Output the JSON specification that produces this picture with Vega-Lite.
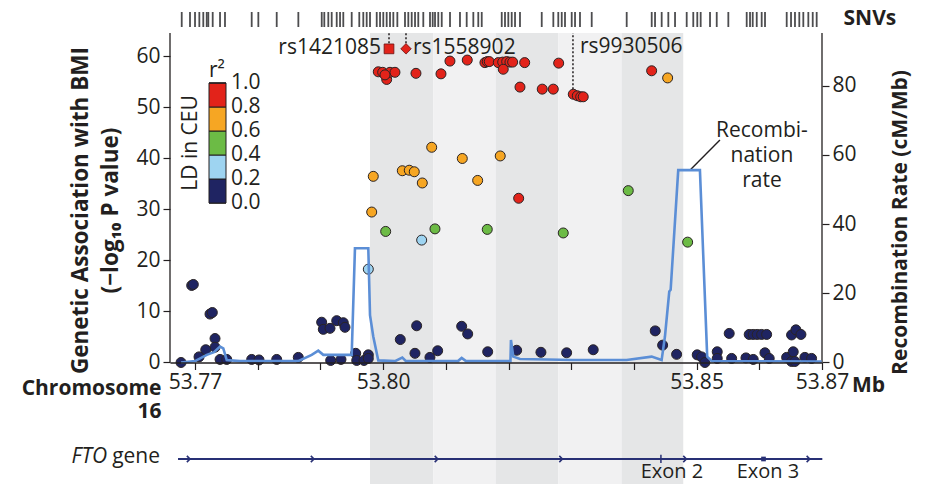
{
  "$schema": "https://vega.github.io/schema/vega-lite/v6.json",
  "width": 652,
  "height": 479,
  "autosize": "none",
  "padding": {"left": 170, "top": 5, "right": 104, "bottom": 0},
  "background": "white",
  "config": {
    "font": "Open Sans",
    "view": {"stroke": null},
    "axis": {"grid": false, "labelFont": "Open Sans", "titleFont": "Open Sans", "labelColor": "#231f20", "titleColor": "#231f20", "tickColor": "#231f20", "domainColor": "#231f20"},
    "text": {"font": "Open Sans", "color": "#231f20"}
  },
  "datasets": {
    "bands": [
      {"start": 53.79791, "end": 53.808, "shade": "dark"},
      {"start": 53.808, "end": 53.818, "shade": "light"},
      {"start": 53.818, "end": 53.82793, "shade": "dark"},
      {"start": 53.82793, "end": 53.83804, "shade": "light"},
      {"start": 53.83804, "end": 53.84787, "shade": "dark"}
    ],
    "snv": [
      {"pos": 53.76788}, {"pos": 53.7692}, {"pos": 53.77}, {"pos": 53.77069}, {"pos": 53.77132}, {"pos": 53.77187}, {"pos": 53.77212}, {"pos": 53.77282}, {"pos": 53.77399}, {"pos": 53.77478},
      {"pos": 53.77904}, {"pos": 53.7801}, {"pos": 53.78303}, {"pos": 53.78648}, {"pos": 53.79021}, {"pos": 53.79062}, {"pos": 53.79126}, {"pos": 53.7918}, {"pos": 53.7926}, {"pos": 53.79313},
      {"pos": 53.79365}, {"pos": 53.79499}, {"pos": 53.7962}, {"pos": 53.79684}, {"pos": 53.79738}, {"pos": 53.79791}, {"pos": 53.79898}, {"pos": 53.79951}, {"pos": 53.80003}, {"pos": 53.80057},
      {"pos": 53.8011}, {"pos": 53.80163}, {"pos": 53.80227}, {"pos": 53.80349}, {"pos": 53.80402}, {"pos": 53.80456}, {"pos": 53.80509}, {"pos": 53.80561}, {"pos": 53.80641}, {"pos": 53.80748},
      {"pos": 53.80791}, {"pos": 53.80828}, {"pos": 53.8088}, {"pos": 53.80935}, {"pos": 53.81067}, {"pos": 53.81226}, {"pos": 53.81333}, {"pos": 53.81439}, {"pos": 53.81518}, {"pos": 53.81573},
      {"pos": 53.81892}, {"pos": 53.81944}, {"pos": 53.81997}, {"pos": 53.82051}, {"pos": 53.82104}, {"pos": 53.82183}, {"pos": 53.8253}, {"pos": 53.82715}, {"pos": 53.82794}, {"pos": 53.82849},
      {"pos": 53.82901}, {"pos": 53.83008}, {"pos": 53.83061}, {"pos": 53.8314}, {"pos": 53.83327}, {"pos": 53.83885}, {"pos": 53.84284}, {"pos": 53.84337}, {"pos": 53.84443}, {"pos": 53.84549},
      {"pos": 53.84656}, {"pos": 53.84842}, {"pos": 53.84947}, {"pos": 53.85011}, {"pos": 53.85065}, {"pos": 53.85214}, {"pos": 53.85321}, {"pos": 53.85506}, {"pos": 53.85799}, {"pos": 53.85852},
      {"pos": 53.85895}, {"pos": 53.85959}, {"pos": 53.86038}, {"pos": 53.86091}, {"pos": 53.86437}, {"pos": 53.86506}, {"pos": 53.86569}, {"pos": 53.86638}, {"pos": 53.86702}, {"pos": 53.86782},
      {"pos": 53.86852}, {"pos": 53.86915}
    ],
    "pts": [
      {"pos": 53.76777, "v": 0.0, "r2": 0.1}, {"pos": 53.76947, "v": 15.1, "r2": 0.1}, {"pos": 53.76973, "v": 15.3, "r2": 0.1}, {"pos": 53.77239, "v": 9.5, "r2": 0.1}, {"pos": 53.77276, "v": 9.8, "r2": 0.1},
      {"pos": 53.77319, "v": 4.7, "r2": 0.1}, {"pos": 53.77319, "v": 3.0, "r2": 0.1}, {"pos": 53.77171, "v": 2.5, "r2": 0.1}, {"pos": 53.77064, "v": 1.1, "r2": 0.1}, {"pos": 53.77399, "v": 0.6, "r2": 0.1},
      {"pos": 53.77506, "v": 0.6, "r2": 0.1}, {"pos": 53.77904, "v": 0.6, "r2": 0.1}, {"pos": 53.78021, "v": 0.5, "r2": 0.1}, {"pos": 53.78303, "v": 0.6, "r2": 0.1}, {"pos": 53.78647, "v": 1.0, "r2": 0.1},
      {"pos": 53.7902, "v": 7.9, "r2": 0.1}, {"pos": 53.79046, "v": 6.5, "r2": 0.1}, {"pos": 53.79153, "v": 6.7, "r2": 0.1}, {"pos": 53.7926, "v": 8.2, "r2": 0.1}, {"pos": 53.79365, "v": 7.8, "r2": 0.1},
      {"pos": 53.79392, "v": 6.9, "r2": 0.1}, {"pos": 53.79164, "v": 0.4, "r2": 0.1}, {"pos": 53.79328, "v": 0.6, "r2": 0.1}, {"pos": 53.79563, "v": 1.8, "r2": 0.1}, {"pos": 53.79579, "v": 0.4, "r2": 0.1},
      {"pos": 53.79695, "v": 0.4, "r2": 0.1}, {"pos": 53.79764, "v": 1.5, "r2": 0.1}, {"pos": 53.79764, "v": 0.8, "r2": 0.1}, {"pos": 53.80274, "v": 4.5, "r2": 0.1}, {"pos": 53.80535, "v": 7.2, "r2": 0.1},
      {"pos": 53.80508, "v": 1.8, "r2": 0.1}, {"pos": 53.80747, "v": 1.0, "r2": 0.1}, {"pos": 53.8087, "v": 2.3, "r2": 0.1}, {"pos": 53.81253, "v": 7.1, "r2": 0.1}, {"pos": 53.81349, "v": 5.6, "r2": 0.1},
      {"pos": 53.81668, "v": 2.1, "r2": 0.1}, {"pos": 53.8213, "v": 2.4, "r2": 0.1}, {"pos": 53.82517, "v": 2.0, "r2": 0.1}, {"pos": 53.82927, "v": 1.9, "r2": 0.1}, {"pos": 53.83351, "v": 2.5, "r2": 0.1},
      {"pos": 53.8434, "v": 6.2, "r2": 0.1}, {"pos": 53.84458, "v": 3.4, "r2": 0.1}, {"pos": 53.84681, "v": 1.6, "r2": 0.1}, {"pos": 53.8501, "v": 1.5, "r2": 0.1}, {"pos": 53.8508, "v": 1.1, "r2": 0.1},
      {"pos": 53.85133, "v": 0.0, "r2": 0.1}, {"pos": 53.85329, "v": 2.1, "r2": 0.1}, {"pos": 53.85329, "v": 0.8, "r2": 0.1}, {"pos": 53.8552, "v": 5.7, "r2": 0.1}, {"pos": 53.85559, "v": 0.8, "r2": 0.1},
      {"pos": 53.85839, "v": 5.5, "r2": 0.1}, {"pos": 53.85903, "v": 5.5, "r2": 0.1}, {"pos": 53.85967, "v": 5.5, "r2": 0.1}, {"pos": 53.86037, "v": 5.5, "r2": 0.1}, {"pos": 53.86117, "v": 5.5, "r2": 0.1},
      {"pos": 53.85787, "v": 0.9, "r2": 0.1}, {"pos": 53.85903, "v": 0.6, "r2": 0.1}, {"pos": 53.8609, "v": 1.9, "r2": 0.1}, {"pos": 53.86158, "v": 0.8, "r2": 0.1}, {"pos": 53.86436, "v": 1.0, "r2": 0.1},
      {"pos": 53.86515, "v": 5.4, "r2": 0.1}, {"pos": 53.86584, "v": 6.4, "r2": 0.1}, {"pos": 53.86664, "v": 5.5, "r2": 0.1}, {"pos": 53.86541, "v": 2.1, "r2": 0.1}, {"pos": 53.86515, "v": 0.2, "r2": 0.1},
      {"pos": 53.86568, "v": 0.2, "r2": 0.1}, {"pos": 53.86727, "v": 1.0, "r2": 0.1}, {"pos": 53.86834, "v": 0.8, "r2": 0.1},
      {"pos": 53.79764, "v": 18.3, "r2": 0.3}, {"pos": 53.80615, "v": 24.0, "r2": 0.3},
      {"pos": 53.80041, "v": 25.7, "r2": 0.5}, {"pos": 53.80827, "v": 26.2, "r2": 0.5}, {"pos": 53.81661, "v": 26.1, "r2": 0.5}, {"pos": 53.82873, "v": 25.4, "r2": 0.5}, {"pos": 53.8391, "v": 33.7, "r2": 0.5}, {"pos": 53.84857, "v": 23.6, "r2": 0.5},
      {"pos": 53.79843, "v": 36.5, "r2": 0.7}, {"pos": 53.79818, "v": 29.5, "r2": 0.7}, {"pos": 53.80775, "v": 42.2, "r2": 0.7}, {"pos": 53.80306, "v": 37.6, "r2": 0.7}, {"pos": 53.80417, "v": 37.7, "r2": 0.7},
      {"pos": 53.80497, "v": 37.4, "r2": 0.7}, {"pos": 53.80625, "v": 35.2, "r2": 0.7}, {"pos": 53.81263, "v": 40.0, "r2": 0.7}, {"pos": 53.81508, "v": 35.7, "r2": 0.7}, {"pos": 53.81868, "v": 40.5, "r2": 0.7}, {"pos": 53.84538, "v": 55.8, "r2": 0.7},
      {"pos": 53.82162, "v": 32.2, "r2": 0.9}, {"pos": 53.79923, "v": 57.0, "r2": 0.9}, {"pos": 53.79993, "v": 56.9, "r2": 0.9}, {"pos": 53.80057, "v": 55.5, "r2": 0.9}, {"pos": 53.8011, "v": 56.9, "r2": 0.9},
      {"pos": 53.80189, "v": 56.9, "r2": 0.9}, {"pos": 53.8003, "v": 56.4, "r2": 0.9}, {"pos": 53.80524, "v": 56.7, "r2": 0.9}, {"pos": 53.80923, "v": 56.6, "r2": 0.9}, {"pos": 53.81066, "v": 59.1, "r2": 0.9},
      {"pos": 53.81342, "v": 59.3, "r2": 0.9}, {"pos": 53.81624, "v": 58.8, "r2": 0.9}, {"pos": 53.81661, "v": 59.0, "r2": 0.9}, {"pos": 53.81693, "v": 59.0, "r2": 0.9}, {"pos": 53.81837, "v": 58.8, "r2": 0.9},
      {"pos": 53.81907, "v": 58.9, "r2": 0.9}, {"pos": 53.81971, "v": 59.0, "r2": 0.9}, {"pos": 53.82023, "v": 58.9, "r2": 0.9}, {"pos": 53.82066, "v": 58.9, "r2": 0.9}, {"pos": 53.81916, "v": 57.5, "r2": 0.9},
      {"pos": 53.82258, "v": 58.8, "r2": 0.9}, {"pos": 53.828, "v": 58.7, "r2": 0.9}, {"pos": 53.82183, "v": 54.0, "r2": 0.9}, {"pos": 53.82538, "v": 53.6, "r2": 0.9}, {"pos": 53.82714, "v": 53.6, "r2": 0.9},
      {"pos": 53.83033, "v": 52.6, "r2": 0.9}, {"pos": 53.83097, "v": 52.3, "r2": 0.9}, {"pos": 53.83151, "v": 52.1, "r2": 0.9}, {"pos": 53.83192, "v": 52.1, "r2": 0.9}, {"pos": 53.84283, "v": 57.2, "r2": 0.9}
    ],
    "lead": [
      {"snp": "rs1421085", "pos": 53.80094, "v": 61.5, "lo": 62.6, "hi": 64.6},
      {"snp": "rs1558902", "pos": 53.80365, "v": 61.5, "lo": 62.6, "hi": 64.6},
      {"snp": "rs9930506", "pos": 53.83028, "v": 61.7, "lo": 53.6, "hi": 64.6}
    ],
    "recomb": [
      {"pos": 53.76777, "rate": 0}, {"pos": 53.77, "rate": 0.4}, {"pos": 53.77187, "rate": 2.2}, {"pos": 53.77303, "rate": 3.0}, {"pos": 53.77399, "rate": 4.6},
      {"pos": 53.77451, "rate": 4.1}, {"pos": 53.77506, "rate": 0.7}, {"pos": 53.77718, "rate": 0.4}, {"pos": 53.78643, "rate": 0.4}, {"pos": 53.78861, "rate": 2.2},
      {"pos": 53.78966, "rate": 3.4}, {"pos": 53.79046, "rate": 2.2}, {"pos": 53.79499, "rate": 2.2}, {"pos": 53.79551, "rate": 33.0}, {"pos": 53.79764, "rate": 33.0},
      {"pos": 53.79791, "rate": 13.7}, {"pos": 53.79843, "rate": 7.5}, {"pos": 53.79923, "rate": 0.6}, {"pos": 53.80189, "rate": 0.4}, {"pos": 53.80306, "rate": 1.4},
      {"pos": 53.80365, "rate": 0.4}, {"pos": 53.81194, "rate": 0.4}, {"pos": 53.81253, "rate": 1.3}, {"pos": 53.81322, "rate": 0.4}, {"pos": 53.82031, "rate": 0.4},
      {"pos": 53.82039, "rate": 6.5}, {"pos": 53.82076, "rate": 1.7}, {"pos": 53.82183, "rate": 1.0}, {"pos": 53.83028, "rate": 0.7}, {"pos": 53.83884, "rate": 0.7},
      {"pos": 53.84283, "rate": 1.7}, {"pos": 53.84442, "rate": 0.7}, {"pos": 53.84495, "rate": 7.5}, {"pos": 53.84564, "rate": 20.5}, {"pos": 53.84586, "rate": 21.0},
      {"pos": 53.84707, "rate": 55.6}, {"pos": 53.85053, "rate": 55.6}, {"pos": 53.85169, "rate": 1.7}, {"pos": 53.85244, "rate": 0.4}, {"pos": 53.86994, "rate": 0.3}
    ],
    "arrows": [
      {"pos": 53.76895}, {"pos": 53.78872}, {"pos": 53.80848}, {"pos": 53.82835}, {"pos": 53.84812}, {"pos": 53.8678}
    ],
    "exons": [
      {"exon": "Exon 2", "pos": 53.84431, "label": 53.84607},
      {"exon": "Exon 3", "pos": 53.86067, "label": 53.86137}
    ]
  },
  "layer": [
    {
      "layer": [
        {
          "data": {"name": "bands"},
          "mark": {"type": "rect"},
          "encoding": {
            "x": {"field": "start", "type": "quantitative", "scale": {"domain": [53.76601, 53.87], "nice": false, "zero": false},
              "axis": {"values": [53.77, 53.78, 53.79, 53.8, 53.81, 53.82, 53.83, 53.84, 53.85, 53.86, 53.87], "offset": -121.5, "zindex": 1, "domainWidth": 1.5, "tickWidth": 1.2, "tickSize": 7, "labelFontSize": 21, "labelPadding": 2, "labelOverlap": false, "labelFlush": false, "labelBound": false,
                "labelExpr": "(datum.value == 53.77 || datum.value == 53.8 || datum.value == 53.85 || datum.value == 53.87) ? format(datum.value, '.2f') : ''",
                "title": ["Chromosome", "16"], "titleFontSize": 21, "titleFontWeight": "bold", "titleAlign": "right", "titleAnchor": null, "titleBaseline": "top", "titleX": -9, "titleY": 15, "titleLineHeight": 23, "titleAngle": 0}},
            "x2": {"field": "end"},
            "y": {"datum": 64.6, "type": "quantitative", "scale": {"domain": [-23.824, 70.098], "nice": false, "zero": false},
              "axis": {"values": [0, 10, 20, 30, 40, 50, 60], "domain": false, "tickSize": 7, "tickWidth": 1.2, "labelFontSize": 21, "labelPadding": 3,
                "title": ["Genetic Association with BMI", "(\u2212log\u2081\u2080 P value)"], "titleFontSize": 22.5, "titleFontWeight": "bold", "titleAngle": 270, "titleAlign": "center", "titleBaseline": "middle", "titleX": -90, "titleY": 205, "titleLineHeight": 30}},
            "y2": {"datum": -23.824},
            "fill": {"field": "shade", "type": "nominal", "scale": {"domain": ["dark", "light"], "range": ["#e5e6e7", "#f1f1f2"]}, "legend": null}
          }
        },
        {
          "data": {"name": "snv"},
          "mark": {"type": "rule", "stroke": "#4d4d4f", "strokeWidth": 1.8},
          "encoding": {
            "x": {"field": "pos", "type": "quantitative", "scale": {"domain": [53.76601, 53.87], "nice": false, "zero": false}},
            "y": {"datum": 68.73, "type": "quantitative", "scale": {"domain": [-23.824, 70.098], "nice": false, "zero": false}},
            "y2": {"datum": 65.78}
          }
        },
        {
          "data": {"name": "snv"},
          "transform": [{"filter": "datum.pos < 53.768"}],
          "mark": {"type": "rule", "stroke": "#231f20", "strokeWidth": 1.3},
          "encoding": {
            "x": {"datum": 53.76601, "type": "quantitative", "scale": {"domain": [53.76601, 53.87], "nice": false, "zero": false}},
            "y": {"datum": 0, "type": "quantitative", "scale": {"domain": [-23.824, 70.098], "nice": false, "zero": false}},
            "y2": {"datum": 64.6}
          }
        },
        {
          "data": {"name": "snv"},
          "transform": [{"filter": "datum.pos < 53.768"}],
          "mark": {"type": "rule", "stroke": "#231f20", "strokeWidth": 1.3},
          "encoding": {
            "x": {"datum": 53.87, "type": "quantitative", "scale": {"domain": [53.76601, 53.87], "nice": false, "zero": false}},
            "y": {"datum": 0, "type": "quantitative", "scale": {"domain": [-23.824, 70.098], "nice": false, "zero": false}},
            "y2": {"datum": 64.6}
          }
        },
        {
          "data": {"name": "lead"},
          "mark": {"type": "rule", "stroke": "#231f20", "strokeWidth": 1.5, "strokeDash": [2, 2]},
          "encoding": {
            "x": {"field": "pos", "type": "quantitative", "scale": {"domain": [53.76601, 53.87], "nice": false, "zero": false}},
            "y": {"field": "lo", "type": "quantitative", "scale": {"domain": [-23.824, 70.098], "nice": false, "zero": false}},
            "y2": {"field": "hi"}
          }
        },
        {
          "data": {"name": "pts"},
          "mark": {"type": "circle", "size": 100, "opacity": 1, "stroke": "#2a2425", "strokeWidth": 1},
          "encoding": {
            "x": {"field": "pos", "type": "quantitative", "scale": {"domain": [53.76601, 53.87], "nice": false, "zero": false}},
            "y": {"field": "v", "type": "quantitative", "scale": {"domain": [-23.824, 70.098], "nice": false, "zero": false}},
            "color": {"field": "r2", "type": "quantitative",
              "scale": {"type": "quantize", "domain": [0, 1], "nice": false, "zero": false, "range": ["#1f2462", "#9ed4f1", "#6cbb45", "#f6a623", "#e2231a"]},
              "legend": {"type": "gradient", "direction": "vertical", "orient": "none", "legendX": 39, "legendY": 55, "padding": 0,
                "values": [-1, 0, 0.2, 0.4, 0.6, 0.8, 1.0],
                "title": "r\u00b2", "titleFontSize": 21, "titleFontWeight": "normal", "titleColor": "#231f20", "titleFont": "Open Sans", "titlePadding": 2,
                "gradientLength": 120, "gradientThickness": 17, "gradientStrokeColor": "#231f20", "gradientStrokeWidth": 1,
                "labelFontSize": 21, "labelColor": "#231f20", "labelFont": "Open Sans", "labelOffset": 5, "labelOverlap": false, "format": ".1f",
                "encoding": {"labels": {"baseline": {"value": "middle"}}}}}
          }
        },
        {
          "data": {"name": "lead"},
          "transform": [{"filter": "datum.snp == 'rs1421085'"}],
          "mark": {"type": "point", "shape": "square", "filled": true, "size": 95, "opacity": 1, "color": "#e2231a", "stroke": "#6b1010", "strokeWidth": 0.8},
          "encoding": {
            "x": {"field": "pos", "type": "quantitative", "scale": {"domain": [53.76601, 53.87], "nice": false, "zero": false}},
            "y": {"field": "v", "type": "quantitative", "scale": {"domain": [-23.824, 70.098], "nice": false, "zero": false}}
          }
        },
        {
          "data": {"name": "lead"},
          "transform": [{"filter": "datum.snp == 'rs1558902'"}],
          "mark": {"type": "point", "shape": "diamond", "filled": true, "size": 110, "opacity": 1, "color": "#e2231a", "stroke": "#6b1010", "strokeWidth": 0.8},
          "encoding": {
            "x": {"field": "pos", "type": "quantitative", "scale": {"domain": [53.76601, 53.87], "nice": false, "zero": false}},
            "y": {"field": "v", "type": "quantitative", "scale": {"domain": [-23.824, 70.098], "nice": false, "zero": false}}
          }
        },
        {
          "data": {"name": "lead"},
          "transform": [{"filter": "datum.snp == 'rs1421085'"}],
          "mark": {"type": "text", "align": "right", "baseline": "middle", "dx": -8, "dy": -1, "fontSize": 21, "color": "#231f20"},
          "encoding": {
            "x": {"field": "pos", "type": "quantitative", "scale": {"domain": [53.76601, 53.87], "nice": false, "zero": false}},
            "y": {"field": "v", "type": "quantitative", "scale": {"domain": [-23.824, 70.098], "nice": false, "zero": false}},
            "text": {"field": "snp"}
          }
        },
        {
          "data": {"name": "lead"},
          "transform": [{"filter": "datum.snp != 'rs1421085'"}],
          "mark": {"type": "text", "align": "left", "baseline": "middle", "dx": 7, "dy": -1, "fontSize": 21, "color": "#231f20"},
          "encoding": {
            "x": {"field": "pos", "type": "quantitative", "scale": {"domain": [53.76601, 53.87], "nice": false, "zero": false}},
            "y": {"field": "v", "type": "quantitative", "scale": {"domain": [-23.824, 70.098], "nice": false, "zero": false}},
            "text": {"field": "snp"}
          }
        },
        {
          "data": {"name": "exons"},
          "transform": [{"filter": "datum.exon == 'Exon 2'"}],
          "mark": {"type": "rule", "stroke": "#283075", "strokeWidth": 2},
          "encoding": {
            "x": {"datum": 53.76729, "type": "quantitative", "scale": {"domain": [53.76601, 53.87], "nice": false, "zero": false}},
            "x2": {"datum": 53.87005},
            "y": {"datum": -18.92, "type": "quantitative", "scale": {"domain": [-23.824, 70.098], "nice": false, "zero": false}}
          }
        },
        {
          "data": {"name": "arrows"},
          "mark": {"type": "point", "shape": "M-0.5,-1L0.5,0L-0.5,1", "filled": false, "size": 40, "opacity": 1, "stroke": "#283075", "strokeWidth": 1.6},
          "encoding": {
            "x": {"field": "pos", "type": "quantitative", "scale": {"domain": [53.76601, 53.87], "nice": false, "zero": false}},
            "y": {"datum": -18.92, "type": "quantitative", "scale": {"domain": [-23.824, 70.098], "nice": false, "zero": false}}
          }
        },
        {
          "data": {"name": "exons"},
          "transform": [{"filter": "datum.exon == 'Exon 2'"}],
          "mark": {"type": "rule", "stroke": "#283075", "strokeWidth": 1.5},
          "encoding": {
            "x": {"field": "pos", "type": "quantitative", "scale": {"domain": [53.76601, 53.87], "nice": false, "zero": false}},
            "y": {"datum": -18.1, "type": "quantitative", "scale": {"domain": [-23.824, 70.098], "nice": false, "zero": false}},
            "y2": {"datum": -19.7}
          }
        },
        {
          "data": {"name": "exons"},
          "transform": [{"filter": "datum.exon == 'Exon 3'"}],
          "mark": {"type": "point", "shape": "square", "filled": true, "size": 22, "opacity": 1, "color": "#283075"},
          "encoding": {
            "x": {"field": "pos", "type": "quantitative", "scale": {"domain": [53.76601, 53.87], "nice": false, "zero": false}},
            "y": {"datum": -18.92, "type": "quantitative", "scale": {"domain": [-23.824, 70.098], "nice": false, "zero": false}}
          }
        },
        {
          "data": {"name": "exons"},
          "mark": {"type": "text", "align": "center", "baseline": "middle", "fontSize": 20, "color": "#231f20"},
          "encoding": {
            "x": {"field": "label", "type": "quantitative", "scale": {"domain": [53.76601, 53.87], "nice": false, "zero": false}},
            "y": {"datum": -21.4, "type": "quantitative", "scale": {"domain": [-23.824, 70.098], "nice": false, "zero": false}},
            "text": {"field": "exon"}
          }
        },
        {
          "data": {"name": "arrows"},
          "transform": [{"filter": "datum.pos < 53.77"}],
          "mark": {"type": "text", "align": "right", "baseline": "middle", "fontSize": 21, "fontStyle": "italic", "color": "#231f20"},
          "encoding": {
            "x": {"datum": 53.75597, "type": "quantitative", "scale": {"domain": [53.76601, 53.87], "nice": false, "zero": false}},
            "y": {"datum": -18.53, "type": "quantitative", "scale": {"domain": [-23.824, 70.098], "nice": false, "zero": false}},
            "text": {"value": "FTO"}
          }
        },
        {
          "data": {"name": "arrows"},
          "transform": [{"filter": "datum.pos < 53.77"}],
          "mark": {"type": "text", "align": "right", "baseline": "middle", "fontSize": 21, "color": "#231f20"},
          "encoding": {
            "x": {"datum": 53.76442, "type": "quantitative", "scale": {"domain": [53.76601, 53.87], "nice": false, "zero": false}},
            "y": {"datum": -18.53, "type": "quantitative", "scale": {"domain": [-23.824, 70.098], "nice": false, "zero": false}},
            "text": {"value": "gene"}
          }
        },
        {
          "data": {"name": "arrows"},
          "transform": [{"filter": "datum.pos < 53.77"}],
          "mark": {"type": "text", "align": "left", "baseline": "middle", "fontSize": 21, "fontWeight": "bold", "color": "#231f20"},
          "encoding": {
            "x": {"datum": 53.87477, "type": "quantitative", "scale": {"domain": [53.76601, 53.87], "nice": false, "zero": false}},
            "y": {"datum": -4.6, "type": "quantitative", "scale": {"domain": [-23.824, 70.098], "nice": false, "zero": false}},
            "text": {"value": "Mb"}
          }
        },
        {
          "data": {"name": "arrows"},
          "transform": [{"filter": "datum.pos < 53.77"}],
          "mark": {"type": "text", "align": "center", "baseline": "middle", "fontSize": 21, "fontWeight": "bold", "color": "#231f20"},
          "encoding": {
            "x": {"datum": 53.87764, "type": "quantitative", "scale": {"domain": [53.76601, 53.87], "nice": false, "zero": false}},
            "y": {"datum": 67.4, "type": "quantitative", "scale": {"domain": [-23.824, 70.098], "nice": false, "zero": false}},
            "text": {"value": "SNVs"}
          }
        },
        {
          "data": {"name": "arrows"},
          "transform": [{"filter": "datum.pos < 53.77"}],
          "mark": {"type": "text", "align": "center", "baseline": "middle", "angle": 270, "fontSize": 21, "color": "#231f20"},
          "encoding": {
            "x": {"datum": 53.76936, "type": "quantitative", "scale": {"domain": [53.76601, 53.87], "nice": false, "zero": false}},
            "y": {"datum": 43.04, "type": "quantitative", "scale": {"domain": [-23.824, 70.098], "nice": false, "zero": false}},
            "text": {"value": "LD in CEU"}
          }
        },
        {
          "data": {"name": "arrows"},
          "transform": [{"filter": "datum.pos < 53.77"}],
          "mark": {"type": "text", "align": "center", "baseline": "top", "fontSize": 21, "lineHeight": 25, "color": "#231f20"},
          "encoding": {
            "x": {"datum": 53.86042, "type": "quantitative", "scale": {"domain": [53.76601, 53.87], "nice": false, "zero": false}},
            "y": {"datum": 47.55, "type": "quantitative", "scale": {"domain": [-23.824, 70.098], "nice": false, "zero": false}},
            "text": {"value": ["Recombi-", "nation", "rate"]}
          }
        },
        {
          "data": {"name": "arrows"},
          "transform": [{"filter": "datum.pos < 53.77"}],
          "mark": {"type": "rule", "stroke": "#231f20", "strokeWidth": 1.4},
          "encoding": {
            "x": {"datum": 53.84909, "type": "quantitative", "scale": {"domain": [53.76601, 53.87], "nice": false, "zero": false}},
            "x2": {"datum": 53.85372},
            "y": {"datum": 37.88, "type": "quantitative", "scale": {"domain": [-23.824, 70.098], "nice": false, "zero": false}},
            "y2": {"datum": 43.63}
          }
        }
      ]
    },
    {
      "data": {"name": "recomb"},
      "mark": {"type": "line", "stroke": "#5b8ed6", "strokeWidth": 2.6, "strokeJoin": "miter"},
      "encoding": {
        "x": {"field": "pos", "type": "quantitative", "scale": {"domain": [53.76601, 53.87], "nice": false, "zero": false}},
        "y": {"field": "rate", "type": "quantitative", "scale": {"domain": [-35.12, 103.32], "nice": false, "zero": false},
          "axis": {"orient": "right", "values": [0, 20, 40, 60, 80], "domain": false, "tickSize": 7, "tickWidth": 1.2, "labelFontSize": 21, "labelPadding": 3,
            "title": "Recombination Rate (cM/Mb)", "titleFontSize": 21, "titleFontWeight": "bold", "titleAngle": 270, "titleAlign": "center", "titleBaseline": "middle", "titleX": 78, "titleY": 217}}
      }
    }
  ],
  "resolve": {"scale": {"y": "independent"}, "axis": {"y": "independent"}}
}
